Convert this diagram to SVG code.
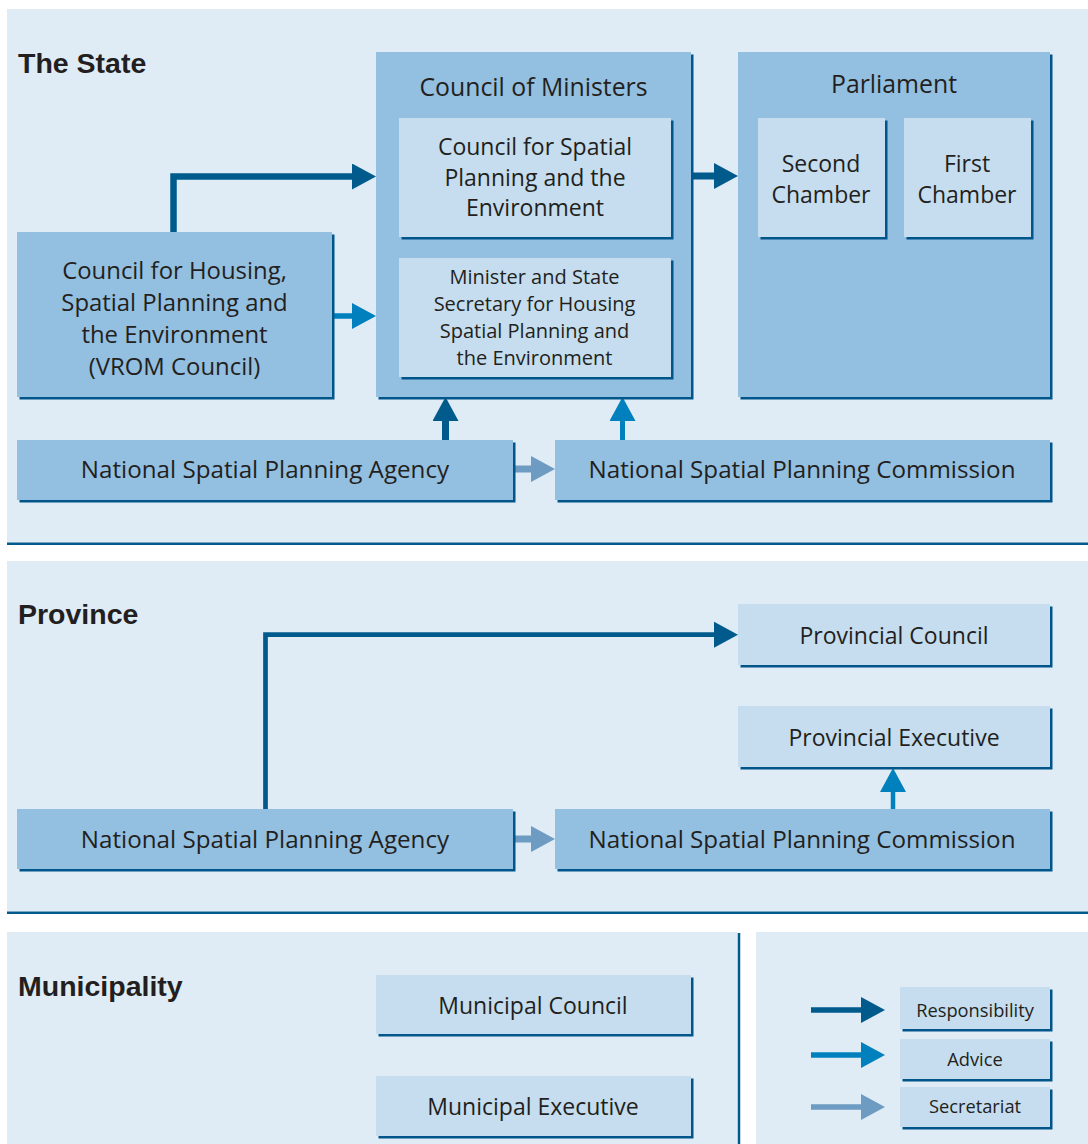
<svg xmlns="http://www.w3.org/2000/svg" width="1088" height="1144" viewBox="0 0 1088 1144">
<style>
.bg{fill:#dfecf6}
.sep{stroke:#005b8c;stroke-width:2.5;fill:none}
.sh{fill:#00558a}
.m{fill:#93bfe0}
.l{fill:#c5ddee}
.h{font-family:"Liberation Sans",Arial,sans-serif;font-weight:bold;font-size:28.5px;fill:#231f20}
.t{font-family:"Open Sans","Noto Sans",sans-serif;font-size:23px;fill:#231f20;text-anchor:middle}
.w{font-size:24.2px}
.v{font-size:23.9px}
.k{font-size:24.8px}
.s{font-family:"Open Sans","Noto Sans",sans-serif;font-size:20px;fill:#231f20;text-anchor:middle}
.g{font-family:"Open Sans","Noto Sans",sans-serif;font-size:18.3px;fill:#231f20;text-anchor:middle}
.resp{stroke:#005b8c;fill:none}
.adv{stroke:#0080bc;fill:none}
.sec{stroke:#6d9bc1;fill:none}
</style>
<defs>
<marker id="hr" markerUnits="userSpaceOnUse" markerWidth="24" markerHeight="26" viewBox="0 0 24 26" refX="0" refY="13" orient="auto"><path d="M0,0 L24,13 L0,26 z" fill="#005b8c"/></marker>
<marker id="ha" markerUnits="userSpaceOnUse" markerWidth="24" markerHeight="26" viewBox="0 0 24 26" refX="0" refY="13" orient="auto"><path d="M0,0 L24,13 L0,26 z" fill="#0080bc"/></marker>
<marker id="hs" markerUnits="userSpaceOnUse" markerWidth="24" markerHeight="26" viewBox="0 0 24 26" refX="0" refY="13" orient="auto"><path d="M0,0 L24,13 L0,26 z" fill="#6d9bc1"/></marker>
</defs>

<g id="sections">
<rect class="bg" x="7" y="9" width="1081" height="533.5"/>
<line class="sep" x1="7" y1="543.8" x2="1088" y2="543.8"/>
<rect class="bg" x="7" y="561" width="1081" height="350.5"/>
<line class="sep" x1="7" y1="912.7" x2="1088" y2="912.7"/>
<rect class="bg" x="7" y="932" width="730.5" height="212"/>
<line class="sep" x1="739" y1="933" x2="739" y2="1144"/>
<rect class="bg" x="756" y="932" width="332" height="212"/>
<text class="h" x="18" y="73">The State</text>
<text class="h" x="18" y="624">Province</text>
<text class="h" x="18" y="996">Municipality</text>
</g>

<g id="connectors">
<path class="resp" stroke-width="6.5" d="M173.5,232 V176.5 H352" marker-end="url(#hr)"/>
<path class="adv" stroke-width="5.5" d="M332,316 H352" marker-end="url(#ha)"/>
<path class="resp" stroke-width="7" d="M691,176 H714" marker-end="url(#hr)"/>
<path class="resp" stroke-width="7" d="M445.5,440 V421" marker-end="url(#hr)"/>
<path class="adv" stroke-width="5" d="M622.5,440 V421" marker-end="url(#ha)"/>
<path class="sec" stroke-width="7" d="M513,469 H531" marker-end="url(#hs)"/>
<path class="resp" stroke-width="4.7" d="M265.5,809 V634.7 H714" marker-end="url(#hr)"/>
<path class="adv" stroke-width="4.5" d="M893,809 V792" marker-end="url(#ha)"/>
<path class="sec" stroke-width="7" d="M513,839 H531" marker-end="url(#hs)"/>
<path class="resp" stroke-width="5.3" d="M811,1010 H861" marker-end="url(#hr)"/>
<path class="adv" stroke-width="5.3" d="M811,1055 H861" marker-end="url(#ha)"/>
<path class="sec" stroke-width="5.3" d="M811,1107 H861" marker-end="url(#hs)"/>
</g>

<g id="vrom-council">
<rect class="sh" x="19.5" y="234.5" width="315" height="165"/>
<rect class="m" x="17" y="232" width="315" height="165"/>
<text class="t v" x="174.5" y="278.5">Council for Housing,</text>
<text class="t v" x="174.5" y="310.5">Spatial Planning and</text>
<text class="t v" x="174.5" y="342.5">the Environment</text>
<text class="t v" x="174.5" y="374.5">(VROM Council)</text>
</g>

<g id="council-of-ministers">
<rect class="sh" x="378.5" y="54.5" width="315" height="345"/>
<rect class="m" x="376" y="52" width="315" height="345"/>
<text class="t k" x="533.5" y="95.5">Council of Ministers</text>
</g>

<g id="council-spatial-planning">
<rect class="sh" x="401.5" y="120.5" width="272" height="119"/>
<rect class="l" x="399" y="118" width="272" height="119"/>
<text class="t" x="535" y="155">Council for Spatial</text>
<text class="t" x="535" y="186">Planning and the</text>
<text class="t" x="535" y="216">Environment</text>
</g>

<g id="minister">
<rect class="sh" x="401.5" y="260.5" width="272" height="119"/>
<rect class="l" x="399" y="258" width="272" height="119"/>
<text class="s" x="534.5" y="284">Minister and State</text>
<text class="s" x="534.5" y="311">Secretary for Housing</text>
<text class="s" x="534.5" y="338">Spatial Planning and</text>
<text class="s" x="534.5" y="365">the Environment</text>
</g>

<g id="parliament">
<rect class="sh" x="740.5" y="54.5" width="312" height="345"/>
<rect class="m" x="738" y="52" width="312" height="345"/>
<text class="t k" x="894" y="93">Parliament</text>
</g>

<g id="second-chamber">
<rect class="sh" x="760.5" y="120.5" width="127" height="119"/>
<rect class="l" x="758" y="118" width="127" height="119"/>
<text class="t" x="821" y="172">Second</text>
<text class="t" x="821" y="203">Chamber</text>
</g>

<g id="first-chamber">
<rect class="sh" x="906.5" y="120.5" width="127" height="119"/>
<rect class="l" x="904" y="118" width="127" height="119"/>
<text class="t" x="967" y="172">First</text>
<text class="t" x="967" y="203">Chamber</text>
</g>

<g id="state-agency">
<rect class="sh" x="19.5" y="442.5" width="496" height="60"/>
<rect class="m" x="17" y="440" width="496" height="60"/>
<text class="t w" x="265" y="477.5">National Spatial Planning Agency</text>
</g>

<g id="state-commission">
<rect class="sh" x="557.5" y="442.5" width="495" height="60"/>
<rect class="m" x="555" y="440" width="495" height="60"/>
<text class="t w" x="802" y="477.5">National Spatial Planning Commission</text>
</g>

<g id="provincial-council">
<rect class="sh" x="740.5" y="606.5" width="312" height="61"/>
<rect class="l" x="738" y="604" width="312" height="61"/>
<text class="t" x="894" y="644">Provincial Council</text>
</g>

<g id="provincial-executive">
<rect class="sh" x="740.5" y="708.5" width="312" height="61"/>
<rect class="l" x="738" y="706" width="312" height="61"/>
<text class="t" x="894" y="745.5">Provincial Executive</text>
</g>

<g id="province-agency">
<rect class="sh" x="19.5" y="811.5" width="496" height="60"/>
<rect class="m" x="17" y="809" width="496" height="60"/>
<text class="t w" x="265" y="848">National Spatial Planning Agency</text>
</g>

<g id="province-commission">
<rect class="sh" x="557.5" y="811.5" width="495" height="60"/>
<rect class="m" x="555" y="809" width="495" height="60"/>
<text class="t w" x="802" y="848">National Spatial Planning Commission</text>
</g>

<g id="municipal-council">
<rect class="sh" x="378.5" y="977.5" width="315" height="59"/>
<rect class="l" x="376" y="975" width="315" height="59"/>
<text class="t" x="533" y="1014">Municipal Council</text>
</g>

<g id="municipal-executive">
<rect class="sh" x="378.5" y="1078.5" width="315" height="60"/>
<rect class="l" x="376" y="1076" width="315" height="60"/>
<text class="t" x="533" y="1115">Municipal Executive</text>
</g>

<g id="legend-responsibility">
<rect class="sh" x="902.5" y="989.5" width="150" height="42"/>
<rect class="l" x="900" y="987" width="150" height="42"/>
<text class="g" x="975" y="1016.5">Responsibility</text>
</g>
<g id="legend-advice">
<rect class="sh" x="902.5" y="1041.5" width="150" height="40"/>
<rect class="l" x="900" y="1039" width="150" height="40"/>
<text class="g" x="975" y="1065.5">Advice</text>
</g>
<g id="legend-secretariat">
<rect class="sh" x="902.5" y="1089.5" width="150" height="40"/>
<rect class="l" x="900" y="1087" width="150" height="40"/>
<text class="g" x="975" y="1113">Secretariat</text>
</g>
</svg>
